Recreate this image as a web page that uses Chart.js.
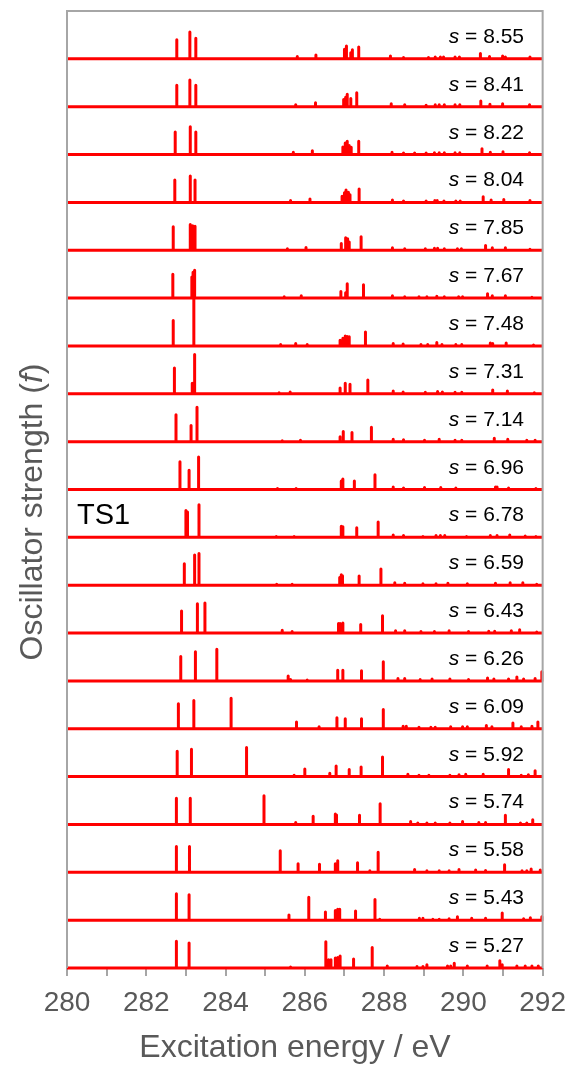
<!DOCTYPE html>
<html>
<head>
<meta charset="utf-8">
<script src="https://cdn.jsdelivr.net/npm/chart.js@4/dist/chart.umd.min.js"></script>
<style>
  html, body { margin: 0; padding: 0; background: #fff; }
  #wrap { width: 576px; height: 1066px; position: relative; }
</style>
</head>
<body>
<div id="wrap"><canvas id="spectra"></canvas></div>
<script>
// panel labels, top to bottom
const sValues = ['8.55', '8.41', '8.22', '8.04', '7.85', '7.67', '7.48', '7.31', '7.14', '6.96',
                 '6.78', '6.59', '6.43', '6.26', '6.09', '5.92', '5.74', '5.58', '5.43', '5.27'];
const tsPanel = '6.78';
const xTicks = [280, 282, 284, 286, 288, 290, 292];

// excitation energies (eV), one list per panel, same order as sValues
const energies = [
  [282.77, 283.10, 283.25, 285.81, 286.28, 287.00, 287.05, 287.16, 287.20, 287.36, 288.16, 288.49, 289.12, 289.29, 289.42, 289.50, 289.79, 289.90, 290.43, 290.66, 290.99, 291.06, 291.68],
  [282.77, 283.10, 283.25, 285.77, 286.27, 286.98, 287.03, 287.07, 287.16, 287.31, 288.18, 288.52, 289.06, 289.29, 289.39, 289.52, 289.79, 289.91, 290.44, 290.67, 290.99, 291.67],
  [282.73, 283.11, 283.25, 285.71, 286.19, 286.96, 287.02, 287.07, 287.12, 287.17, 287.36, 288.20, 288.49, 288.77, 289.06, 289.27, 289.39, 289.52, 289.79, 289.91, 290.47, 290.68, 291.00, 291.67],
  [282.72, 283.11, 283.23, 285.64, 286.13, 286.94, 287.00, 287.04, 287.10, 287.14, 287.37, 288.21, 288.49, 289.06, 289.28, 289.34, 289.51, 289.81, 289.92, 290.50, 290.70, 291.02, 291.68],
  [282.68, 283.11, 283.17, 283.23, 285.56, 286.03, 286.92, 287.03, 287.08, 287.12, 287.42, 288.21, 288.52, 289.04, 289.27, 289.35, 289.52, 289.85, 289.95, 290.56, 290.73, 291.06, 291.68],
  [282.67, 283.15, 283.18, 283.22, 285.48, 285.91, 286.91, 287.03, 287.07, 287.48, 288.21, 288.52, 288.88, 289.08, 289.33, 289.52, 289.88, 289.98, 290.61, 290.73, 291.06, 291.73],
  [282.68, 283.20, 285.39, 285.77, 286.06, 286.89, 286.96, 287.02, 287.07, 287.12, 287.53, 288.23, 288.48, 288.93, 289.10, 289.33, 289.46, 289.81, 289.96, 290.68, 290.74, 291.08, 291.77],
  [282.71, 283.16, 283.22, 285.35, 285.63, 286.89, 287.02, 287.14, 287.59, 288.23, 288.48, 289.04, 289.35, 289.47, 289.79, 289.96, 290.74, 291.11, 291.79],
  [282.75, 283.13, 283.28, 285.43, 285.89, 286.89, 286.97, 287.19, 287.68, 288.23, 288.49, 289.02, 289.39, 289.79, 289.96, 290.78, 291.12, 291.60, 291.81],
  [282.85, 283.08, 283.32, 285.31, 285.78, 286.92, 286.96, 287.25, 287.77, 288.23, 288.49, 289.02, 289.43, 289.81, 290.81, 290.85, 291.14, 291.83],
  [283.00, 283.04, 283.33, 285.28, 285.73, 286.92, 286.96, 287.31, 287.85, 288.23, 288.49, 288.98, 289.31, 289.42, 289.53, 290.08, 290.68, 290.85, 291.17, 291.56, 291.83],
  [282.96, 283.22, 283.33, 285.29, 285.68, 286.88, 286.92, 286.95, 287.37, 287.92, 288.27, 288.52, 288.98, 289.31, 289.61, 290.10, 290.81, 291.18, 291.50, 291.85],
  [282.89, 283.29, 283.48, 285.43, 285.68, 286.85, 286.89, 286.96, 287.41, 287.96, 288.29, 288.52, 288.93, 289.27, 289.64, 290.13, 290.64, 290.79, 291.21, 291.42, 291.85],
  [282.87, 283.24, 283.78, 285.58, 285.64, 286.06, 286.83, 286.96, 287.43, 287.98, 288.35, 288.52, 288.91, 289.21, 289.66, 290.13, 290.61, 290.77, 291.14, 291.35, 291.52, 291.81, 291.98],
  [282.81, 283.20, 284.14, 285.79, 286.36, 286.81, 287.02, 287.43, 287.98, 288.48, 288.56, 288.88, 289.18, 289.29, 289.68, 289.98, 290.10, 290.58, 290.72, 291.25, 291.46, 291.73, 291.88],
  [282.78, 283.14, 284.53, 285.73, 286.00, 286.63, 286.79, 287.12, 287.42, 287.96, 288.60, 288.88, 289.13, 289.66, 289.89, 290.06, 290.50, 291.14, 291.46, 291.64, 291.81],
  [282.76, 283.11, 284.97, 285.77, 286.21, 286.77, 286.80, 287.38, 287.90, 288.67, 288.85, 289.08, 289.29, 289.66, 289.98, 290.39, 290.56, 291.06, 291.44, 291.60, 291.75],
  [282.76, 283.09, 285.38, 285.83, 286.37, 286.77, 286.83, 287.33, 287.64, 287.85, 288.77, 289.08, 289.39, 289.64, 289.89, 290.31, 290.56, 291.04, 291.48, 291.60, 291.71, 291.94],
  [282.76, 283.08, 285.60, 286.10, 286.52, 286.77, 286.83, 286.88, 287.28, 287.77, 287.89, 288.89, 288.98, 289.23, 289.39, 289.64, 289.85, 290.21, 290.56, 290.98, 291.52, 291.69, 291.98],
  [282.76, 283.08, 285.64, 286.53, 286.60, 286.66, 286.77, 286.83, 286.89, 287.23, 287.70, 288.08, 288.83, 288.98, 289.08, 289.60, 289.68, 289.77, 290.10, 290.60, 290.92, 290.98, 291.35, 291.56, 291.73, 291.89]
];

// oscillator strengths, in units of one panel height
const strengths = [
  [0.40, 0.56, 0.43, 0.05, 0.08, 0.20, 0.27, 0.13, 0.19, 0.25, 0.06, 0.03, 0.03, 0.04, 0.04, 0.04, 0.04, 0.04, 0.11, 0.05, 0.06, 0.04, 0.04],
  [0.45, 0.56, 0.45, 0.04, 0.08, 0.15, 0.20, 0.26, 0.17, 0.29, 0.06, 0.04, 0.03, 0.04, 0.04, 0.04, 0.04, 0.04, 0.12, 0.05, 0.06, 0.04],
  [0.47, 0.58, 0.47, 0.05, 0.08, 0.16, 0.24, 0.28, 0.19, 0.15, 0.28, 0.05, 0.03, 0.03, 0.03, 0.04, 0.04, 0.04, 0.04, 0.04, 0.12, 0.05, 0.06, 0.04],
  [0.47, 0.55, 0.47, 0.04, 0.07, 0.13, 0.20, 0.26, 0.21, 0.16, 0.28, 0.05, 0.03, 0.03, 0.04, 0.04, 0.03, 0.03, 0.03, 0.12, 0.05, 0.06, 0.04],
  [0.49, 0.54, 0.51, 0.50, 0.03, 0.06, 0.14, 0.26, 0.24, 0.17, 0.28, 0.05, 0.03, 0.03, 0.04, 0.04, 0.03, 0.03, 0.03, 0.10, 0.05, 0.05, 0.02],
  [0.50, 0.44, 0.54, 0.58, 0.03, 0.05, 0.14, 0.11, 0.30, 0.28, 0.05, 0.03, 0.03, 0.03, 0.04, 0.03, 0.03, 0.03, 0.09, 0.05, 0.05, 0.02],
  [0.53, 1.00, 0.03, 0.05, 0.03, 0.12, 0.16, 0.21, 0.20, 0.19, 0.29, 0.05, 0.04, 0.03, 0.03, 0.07, 0.03, 0.03, 0.03, 0.06, 0.05, 0.06, 0.02],
  [0.54, 0.22, 0.82, 0.02, 0.04, 0.12, 0.22, 0.20, 0.29, 0.06, 0.04, 0.03, 0.05, 0.04, 0.03, 0.03, 0.08, 0.06, 0.02],
  [0.56, 0.34, 0.72, 0.02, 0.03, 0.10, 0.21, 0.19, 0.30, 0.05, 0.04, 0.03, 0.05, 0.03, 0.03, 0.07, 0.05, 0.03, 0.03],
  [0.58, 0.40, 0.68, 0.02, 0.02, 0.18, 0.22, 0.18, 0.31, 0.05, 0.03, 0.04, 0.04, 0.03, 0.05, 0.05, 0.03, 0.02],
  [0.56, 0.53, 0.68, 0.02, 0.02, 0.23, 0.22, 0.20, 0.32, 0.05, 0.04, 0.02, 0.04, 0.04, 0.04, 0.02, 0.04, 0.04, 0.05, 0.03, 0.02],
  [0.45, 0.63, 0.66, 0.02, 0.02, 0.16, 0.22, 0.20, 0.19, 0.34, 0.05, 0.04, 0.03, 0.03, 0.04, 0.03, 0.04, 0.05, 0.05, 0.02],
  [0.46, 0.61, 0.63, 0.06, 0.03, 0.20, 0.20, 0.21, 0.18, 0.36, 0.05, 0.05, 0.03, 0.03, 0.05, 0.03, 0.04, 0.04, 0.05, 0.07, 0.02],
  [0.51, 0.61, 0.66, 0.10, 0.03, 0.02, 0.22, 0.22, 0.21, 0.40, 0.05, 0.05, 0.03, 0.04, 0.04, 0.03, 0.06, 0.04, 0.04, 0.08, 0.04, 0.05, 0.19],
  [0.52, 0.59, 0.64, 0.14, 0.04, 0.23, 0.21, 0.21, 0.40, 0.05, 0.05, 0.03, 0.03, 0.03, 0.04, 0.04, 0.04, 0.07, 0.04, 0.12, 0.04, 0.05, 0.14],
  [0.53, 0.57, 0.61, 0.03, 0.16, 0.07, 0.22, 0.15, 0.20, 0.41, 0.05, 0.03, 0.03, 0.03, 0.04, 0.05, 0.05, 0.15, 0.03, 0.04, 0.12],
  [0.55, 0.55, 0.60, 0.04, 0.17, 0.22, 0.20, 0.19, 0.43, 0.06, 0.03, 0.03, 0.03, 0.03, 0.06, 0.04, 0.04, 0.19, 0.03, 0.03, 0.10],
  [0.54, 0.54, 0.45, 0.18, 0.17, 0.18, 0.24, 0.20, 0.03, 0.42, 0.06, 0.03, 0.03, 0.03, 0.06, 0.05, 0.04, 0.16, 0.03, 0.03, 0.07, 0.05],
  [0.55, 0.53, 0.11, 0.48, 0.17, 0.20, 0.23, 0.23, 0.19, 0.43, 0.02, 0.04, 0.04, 0.02, 0.02, 0.03, 0.07, 0.04, 0.04, 0.15, 0.03, 0.05, 0.07],
  [0.56, 0.52, 0.02, 0.55, 0.17, 0.17, 0.21, 0.22, 0.25, 0.19, 0.43, 0.04, 0.03, 0.03, 0.07, 0.04, 0.04, 0.10, 0.04, 0.04, 0.15, 0.07, 0.04, 0.04, 0.04, 0.04]
];

const FONT = "'Liberation Sans', Arial, sans-serif";
const AXIS_GREY = '#a6a6a6';
const TEXT_GREY = '#595959';
const nPanels = sValues.length;

// stick spectrum of one panel as a single line: baseline with spikes
function stickLine(i) {
  const base = nPanels - 1 - i;
  const pts = [{ x: 280, y: base }];
  energies[i].forEach((e, k) => {
    pts.push({ x: e, y: base }, { x: e, y: base + strengths[i][k] }, { x: e, y: base });
  });
  pts.push({ x: 292, y: base });
  return pts;
}

const datasets = sValues.map((s, i) => ({
  label: 's = ' + s,
  data: stickLine(i),
  borderColor: '#ff0000',
  borderWidth: 3,
  borderJoinStyle: 'round',
  pointRadius: 0,
  tension: 0,
  clip: false
}));

// frame, panel labels and axis titles
const decorations = {
  id: 'decorations',
  afterDraw(chart) {
    const { ctx, chartArea: a, scales: { y } } = chart;
    ctx.save();
    ctx.strokeStyle = AXIS_GREY;
    ctx.lineWidth = 2;
    ctx.beginPath();
    ctx.moveTo(a.left, a.bottom);
    ctx.lineTo(a.left, a.top);
    ctx.lineTo(a.right, a.top);
    ctx.lineTo(a.right, a.bottom);
    ctx.stroke();

    ctx.fillStyle = '#000';
    ctx.textBaseline = 'alphabetic';
    ctx.textAlign = 'left';
    sValues.forEach((s, i) => {
      const yb = y.getPixelForValue(nPanels - 1 - i) - 16;
      ctx.font = '21px ' + FONT;
      const rest = ' = ' + s;
      const wRest = ctx.measureText(rest).width;
      ctx.fillText(rest, 524 - wRest, yb);
      ctx.font = 'italic 21px ' + FONT;
      const wS = ctx.measureText('s').width;
      ctx.fillText('s', 524 - wRest - wS, yb);
      if (s === tsPanel) {
        ctx.font = '29px ' + FONT;
        ctx.fillText('TS1', 77, y.getPixelForValue(nPanels - 1 - i) - 13);
      }
    });

    // x title
    ctx.fillStyle = TEXT_GREY;
    ctx.font = '32px ' + FONT;
    ctx.textAlign = 'center';
    ctx.fillText('Excitation energy / eV', 295, 1057);

    // y title with italic f
    const parts = [['Oscillator strength (', ''], ['f', 'italic '], [')', '']];
    ctx.translate(42, 512);
    ctx.rotate(-Math.PI / 2);
    ctx.textAlign = 'left';
    let total = 0;
    parts.forEach(p => { ctx.font = p[1] + '32px ' + FONT; total += ctx.measureText(p[0]).width; });
    let xp = -total / 2;
    parts.forEach(p => {
      ctx.font = p[1] + '32px ' + FONT;
      ctx.fillText(p[0], xp, 0);
      xp += ctx.measureText(p[0]).width;
    });
    ctx.restore();
  }
};

new Chart(document.getElementById('spectra'), {
  type: 'line',
  data: { datasets },
  options: {
    responsive: true,
    maintainAspectRatio: false,
    animation: false,
    layout: { padding: { top: 11, right: 29, left: 0, bottom: 0 } },
    plugins: { legend: { display: false }, tooltip: { enabled: false } },
    scales: {
      x: {
        type: 'linear',
        min: 280,
        max: 292,
        afterFit: s => { s.height = 98; },
        ticks: {
          stepSize: 1,
          autoSkip: false,
          maxRotation: 0,
          padding: 10,
          color: TEXT_GREY,
          font: { family: FONT, size: 28 },
          callback: v => (xTicks.includes(v) ? v : '')
        },
        grid: { drawOnChartArea: false, drawTicks: true, tickLength: 8, color: AXIS_GREY, lineWidth: 2 },
        border: { display: false }
      },
      y: {
        type: 'linear',
        min: 0,
        max: nPanels,
        afterFit: s => { s.width = 67; },
        ticks: { display: false },
        grid: { display: false },
        border: { display: false }
      }
    }
  },
  plugins: [decorations]
});
</script>
</body>
</html>
